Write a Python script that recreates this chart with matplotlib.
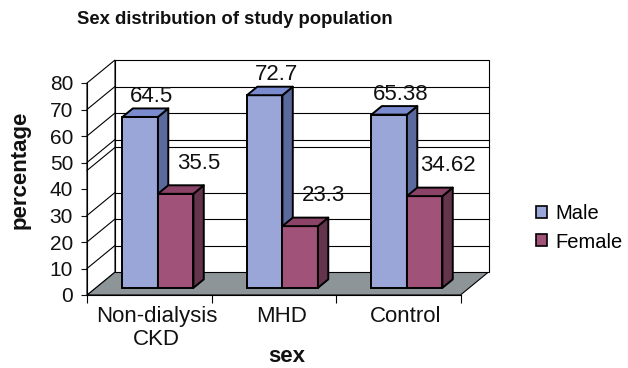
import matplotlib
matplotlib.use("Agg")
import matplotlib.pyplot as plt
from matplotlib.patches import Polygon, Patch

plt.rcParams['font.family'] = ['Liberation Sans', 'DejaVu Sans']

# ---- data ----
categories = ["Non-dialysis\nCKD", "MHD", "Control"]
male = [64.5, 72.7, 65.38]
female = [35.5, 23.3, 34.62]
male_labels = ["64.5", "72.7", "65.38"]
female_labels = ["35.5", "23.3", "34.62"]
yticks = [0, 10, 20, 30, 40, 50, 60, 70, 80]
grid_values = [10, 20, 30, 47, 50, 60, 70]

# ---- style ----
W_PX, H_PX = 628, 368
fig = plt.figure(figsize=(W_PX / 100, H_PX / 100), dpi=100)

XMIN, XMAX, YMIN, YMAX = -0.55, 2.75, -1.0, 90.0
px_per_x = 124.5
px_per_y = 2.65
x0_px = 87 + (XMIN + 0.5) * px_per_x
x1_px = 87 + (XMAX + 0.5) * px_per_x
ytop_px = 295 - YMAX * px_per_y
ybot_px = 295 - YMIN * px_per_y
ax = fig.add_axes([x0_px / W_PX, 1 - ybot_px / H_PX,
                   (x1_px - x0_px) / W_PX, (ybot_px - ytop_px) / H_PX])
ax.set_xlim(XMIN, XMAX)
ax.set_ylim(YMIN, YMAX)

DX = 28 / px_per_x
DY = 23 / px_per_y


def P(x, y, f):
    return (x + f * DX, y + f * DY)


n = len(categories)
L, R = -0.5, n - 0.5
TOP = yticks[-1]
lw_thin = 0.8

# floor
ax.add_patch(Polygon([P(L, 0, 0), P(R, 0, 0), P(R, 0, 1), P(L, 0, 1)],
                     closed=True, facecolor="#8e9598", edgecolor="black",
                     lw=lw_thin, zorder=1))
# back wall
ax.add_patch(Polygon([P(L, 0, 1), P(R, 0, 1), P(R, TOP, 1), P(L, TOP, 1)],
                     closed=True, facecolor="white", edgecolor="black",
                     lw=lw_thin, zorder=1))
# left wall
ax.add_patch(Polygon([P(L, 0, 0), P(L, 0, 1), P(L, TOP, 1), P(L, TOP, 0)],
                     closed=True, facecolor="white", edgecolor="black",
                     lw=lw_thin, zorder=1))
for g in grid_values:
    a, b = P(L, g, 1), P(R, g, 1)
    ax.plot([a[0], b[0]], [a[1], b[1]], color="black", lw=lw_thin, zorder=1.5)
    a, b = P(L, g, 0), P(L, g, 1)
    ax.plot([a[0], b[0]], [a[1], b[1]], color="black", lw=lw_thin, zorder=1.5)

# bars
W = 0.285
F0, F1 = 0.31, 0.68
series = [
    (male, male_labels, -W, "#9aa6d8", "#5b6a9c", "#7a8bd0", (1, 12), "Male"),
    (female, female_labels, 0.0, "#a05278", "#64334c", "#8b4468", (13, 22), "Female"),
]
z = 3
handles = []
for i in range(n):
    for vals, labs, off, cf, cs, ct, lo, name in series:
        v = vals[i]
        xl = i + off
        xr = xl + W
        b = ax.bar(xl + F0 * DX, v, width=W, bottom=F0 * DY, align="edge",
                   color=cf, edgecolor="black", lw=1.4, zorder=z)
        # side face
        ax.add_patch(Polygon([P(xr, 0, F0), P(xr, 0, F1), P(xr, v, F1), P(xr, v, F0)],
                             closed=True, facecolor=cs, edgecolor="black",
                             lw=1.4, zorder=z + 0.1, joinstyle="round"))
        # top face
        ax.add_patch(Polygon([P(xl, v, F0), P(xr, v, F0), P(xr, v, F1), P(xl, v, F1)],
                             closed=True, facecolor=ct, edgecolor="black",
                             lw=1.4, zorder=z + 0.2, joinstyle="round"))
        z += 1
        lx, ly = P((xl + xr) / 2, v, F1)
        ax.annotate(labs[i], (lx, ly), xytext=lo, textcoords="offset pixels",
                    ha="center", va="center", fontsize=16, color="#111111",
                    zorder=20)

# axes spines/ticks
for s in ["top", "right"]:
    ax.spines[s].set_visible(False)
ax.spines["left"].set_position(("data", L))
ax.spines["left"].set_bounds(0, TOP)
ax.spines["bottom"].set_position(("data", 0))
ax.spines["bottom"].set_bounds(L, R)
for s in ["left", "bottom"]:
    ax.spines[s].set_linewidth(lw_thin)
    ax.spines[s].set_zorder(2)
ax.set_yticks(yticks)
ax.set_yticklabels([str(t) for t in yticks])
ax.tick_params(axis="y", direction="out", length=4, width=lw_thin,
               labelsize=15, pad=6, colors="#111111")
ax.set_xticks([L + k for k in range(n + 1)])
ax.set_xticklabels([""] * (n + 1))
ax.tick_params(axis="x", which="major", direction="out", length=6, width=lw_thin)
ax.set_xticks([i + 0.06 for i in range(n)], minor=True)
ax.set_xticklabels(categories, minor=True, fontsize=16, color="#111111",
                   linespacing=1.1)
ax.tick_params(axis="x", which="minor", length=0, pad=8)
ax.set_facecolor("none")

# titles
fig.text(235 / W_PX, 1 - 20 / H_PX, "Sex distribution of study population",
         ha="center", va="center", fontsize=13.3, fontweight="bold", color="#111111")
fig.text(20 / W_PX, 1 - 170 / H_PX, "percentage", rotation=90,
         ha="center", va="center", fontsize=16, fontweight="bold", color="#111111")
fig.text(287 / W_PX, 1 - 357 / H_PX, "sex", ha="center", va="center",
         fontsize=16, fontweight="bold", color="#111111")

# legend
leg_handles = [Patch(facecolor=s[3], edgecolor="black", lw=1.2, label=s[7]) for s in series]
fig.legend(handles=leg_handles, loc="center left",
           bbox_to_anchor=(528 / W_PX, 1 - 228 / H_PX), frameon=False,
           fontsize=14.5, handlelength=0.55, handleheight=0.55,
           handletextpad=0.4, labelspacing=0.45, borderaxespad=0)

fig.savefig("out.png", dpi=100)
